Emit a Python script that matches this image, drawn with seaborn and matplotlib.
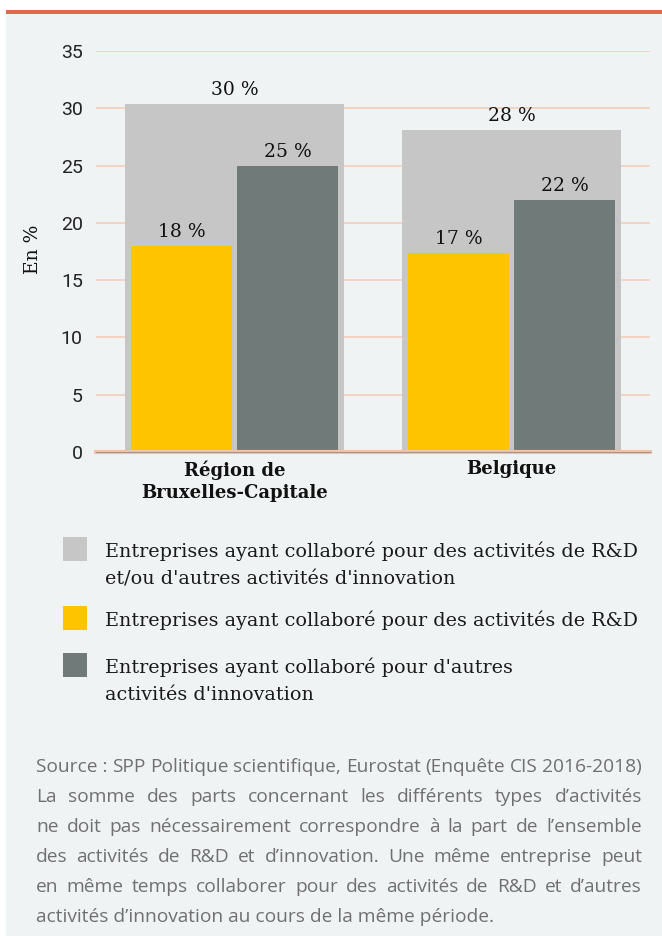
import matplotlib
matplotlib.use("Agg")
import matplotlib.pyplot as plt
from matplotlib.patches import Rectangle
import pandas as pd
import seaborn as sns

#%% DATA

regions = ["Région de\nBruxelles-Capitale", "Belgique"]
total_collab = [30.4, 28.1]   # R&D et/ou autres activités d'innovation
rd_collab = [18.0, 17.4]      # R&D
other_collab = [25.0, 22.0]   # autres activités d'innovation

series_names = ["R&D", "Autres"]
legend_labels = [
    "Entreprises ayant collaboré pour des activités de R&D\net/ou d'autres activités d'innovation",
    "Entreprises ayant collaboré pour des activités de R&D",
    "Entreprises ayant collaboré pour d'autres\nactivités d'innovation",
]
colors = ["#c6c6c6", "#fec400", "#6f7a79"]
yticks = [0, 5, 10, 15, 20, 25, 30, 35]

footer_lines = [
    "Source\u00a0: SPP Politique scientifique, Eurostat (Enquête CIS 2016-2018)",
    "La somme des parts concernant les différents types d’activités",
    "ne doit pas nécessairement correspondre à la part de l’ensemble",
    "des activités de R&D et d’innovation. Une même entreprise peut",
    "en même temps collaborer pour des activités de R&D et d’autres",
    "activités d’innovation au cours de la même période.",
]

#%% HELPERS - work in pixels of the 662x936 picture

W, H = 662, 936

def fx(px):
    return px / W

def fy(py):
    return 1 - py / H

SERIF = ["DejaVu Serif"]
SANS = ["Roboto", "DejaVu Sans"]
FOOT = ["Open Sans", "DejaVu Sans"]

#%% FIGURE + BACKGROUND

fig = plt.figure(figsize=(W / 100, H / 100), dpi=100, facecolor="white")
fig.patches.append(Rectangle((fx(6), 0), 1 - fx(6), fy(12), transform=fig.transFigure,
                             facecolor="#eff3f4", edgecolor="none", zorder=-2))
fig.patches.append(Rectangle((fx(6), fy(13.5)), 1 - fx(6), 3.5 / H, transform=fig.transFigure,
                             facecolor="#df684d", edgecolor="none", zorder=-1))

ax = fig.add_axes([fx(96), fy(452), (650 - 96) / W, (452 - 51) / H])
ax.set_zorder(1)
ax.patch.set_visible(False)

#%% BARS

df_total = pd.DataFrame({"region": regions, "value": total_collab})
df_parts = pd.DataFrame({
    "region": regions * 2,
    "serie": [series_names[0]] * 2 + [series_names[1]] * 2,
    "value": rd_collab + other_collab,
})

sns.barplot(data=df_total, x="region", y="value", color=colors[0], saturation=1,
            width=0.79, errorbar=None, ax=ax, zorder=2)
sns.barplot(data=df_parts, x="region", y="value", hue="serie", palette=colors[1:],
            saturation=1, width=0.765, gap=0.05, errorbar=None, legend=False,
            ax=ax, zorder=3)

# value labels on top of every bar
for c in ax.containers:
    ax.bar_label(c, labels=[f"{v:.0f} %" for v in c.datavalues], padding=3.5,
                 fontsize=13.5, family=SERIF, color="#111111")

#%% AXES STYLE

ax.set_xlim(-0.5, 1.5)
ax.set_ylim(0, 35)
ax.set_yticks(yticks)
ax.set_yticklabels([str(v) for v in yticks], family=SANS, fontsize=14,
                   color="#222222")
ax.set_xlabel("")
ax.set_ylabel("")
for s in ax.spines.values():
    s.set_visible(False)
ax.set_axisbelow(True)
ax.yaxis.grid(True, color="#f6d3c3", lw=1.4, zorder=0)
ax.xaxis.grid(False)
ax.axhline(0, color="#f1c3af", lw=3, zorder=4, clip_on=False)
ax.axhline(0, color="#a8958a", lw=0.8, zorder=5, clip_on=False)

ax.tick_params(axis="y", length=0, pad=9.5)
ax.tick_params(axis="x", length=0, pad=6, labelsize=13, labelcolor="#111111")
for t in ax.get_xticklabels():
    t.set_family(SERIF)
    t.set_fontweight("bold")
    t.set_linespacing(1.3)

fig.text(fx(33), fy(249), "En %", rotation=90, ha="center", va="center",
         family=SERIF, fontsize=13.5, color="#111111")

#%% LEGEND (drawn by hand: square aligned with the first line)

legend_tops = [537, 606, 653]
for label, col, top in zip(legend_labels, colors, legend_tops):
    fig.patches.append(Rectangle((fx(63), fy(top + 24)), 24 / W, 24 / H,
                                 transform=fig.transFigure, facecolor=col,
                                 edgecolor="none", zorder=2))
    for k, line in enumerate(label.split("\n")):
        fig.text(fx(105), fy(top + 14.5 + 28 * k), line, ha="left", va="center",
                 family=SERIF, fontsize=13.8, color="#1a1a1a")

#%% FOOTER - justified lines

renderer = fig.canvas.get_renderer()
x0, x1 = 36, 642

# size the footer font so that the first line fills the text column
probe = fig.text(0, 0, footer_lines[0], family=FOOT, fontsize=12)
foot_size = 12 * (x1 - x0) / probe.get_window_extent(renderer).width
probe.remove()

for i, line in enumerate(footer_lines):
    y = 767 + 30 * i
    if i == len(footer_lines) - 1:
        fig.text(fx(x0), fy(y), line, ha="left", va="center", family=FOOT,
                 fontsize=foot_size, color="#707070")
        continue
    words = line.split(" ")
    texts = [fig.text(0, fy(y), w, ha="left", va="center", family=FOOT,
                      fontsize=foot_size, color="#707070") for w in words]
    widths = [t.get_window_extent(renderer).width for t in texts]
    gap = (x1 - x0 - sum(widths)) / (len(words) - 1)
    x = x0
    for t, w in zip(texts, widths):
        t.set_x(fx(x))
        x += w + gap

fig.savefig("out.png", dpi=100, facecolor="white")
